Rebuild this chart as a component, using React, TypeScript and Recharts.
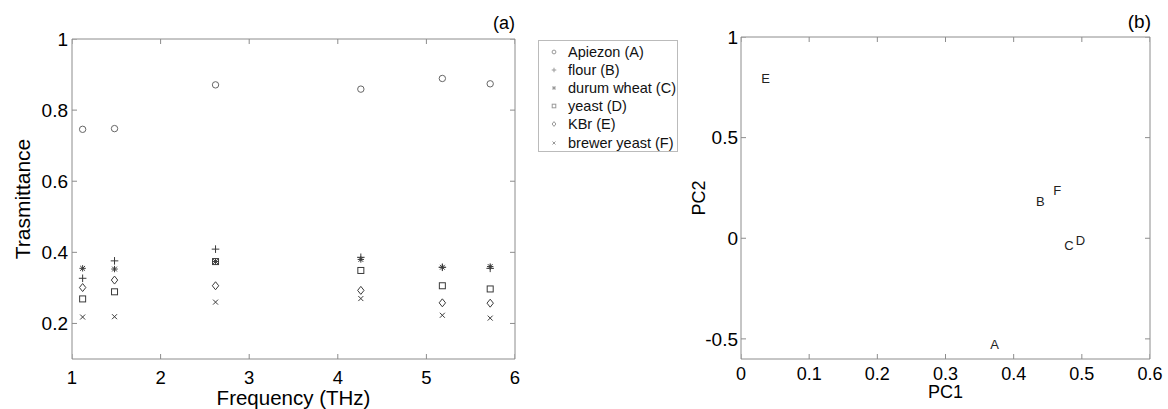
import React from 'react';
import { ScatterChart, Scatter, XAxis, YAxis, Legend, Label } from 'recharts';

// ---------- Data: panel (a) ----------
const frequencies = [1.12, 1.48, 2.62, 4.26, 5.18, 5.72];
const apiezon = [0.746, 0.748, 0.871, 0.859, 0.889, 0.874];
const flour = [0.327, 0.376, 0.409, 0.386, 0.358, 0.355];
const durumWheat = [0.355, 0.353, 0.374, 0.380, 0.358, 0.360];
const yeast = [0.269, 0.289, 0.374, 0.349, 0.306, 0.297];
const kbr = [0.301, 0.322, 0.306, 0.293, 0.258, 0.257];
const brewerYeast = [0.218, 0.219, 0.260, 0.270, 0.223, 0.215];
const seriesNames = ['Apiezon (A)', 'flour (B)', 'durum wheat (C)', 'yeast (D)', 'KBr (E)', 'brewer yeast (F)'];
const seriesValues = [apiezon, flour, durumWheat, yeast, kbr, brewerYeast];
const freqDomain = [1, 6];
const transDomain = [0.1, 1];
const freqTicks = [1, 2, 3, 4, 5, 6];
const transTicks = [0.2, 0.4, 0.6, 0.8, 1];

// ---------- Data: panel (b) ----------
const pcLabels = ['A', 'B', 'C', 'D', 'E', 'F'];
const pc1 = [0.372, 0.439, 0.481, 0.498, 0.036, 0.464];
const pc2 = [-0.526, 0.183, -0.035, -0.011, 0.794, 0.238];
const pc1Domain = [0, 0.6];
const pc2Domain = [-0.6, 1];
const pc1Ticks = [0, 0.1, 0.2, 0.3, 0.4, 0.5, 0.6];
const pc2Ticks = [-0.5, 0, 0.5, 1];

const AXIS = '#8c8c8c';
const FONT = '"Liberation Sans", Arial, Helvetica, sans-serif';
const kinds = ['circle', 'plus', 'star', 'square', 'diamond', 'x'];
const TL = 5; // inward tick length (px)

const noShape = () => <g />;
const noLabel = () => <g />;

// Inward tick-mark glyphs, drawn as scatter shapes at the frame edges
const tickUp = (p: any) => <line x1={p.cx} x2={p.cx} y1={p.cy} y2={p.cy - TL} stroke={AXIS} strokeWidth={1} />;
const tickDown = (p: any) => <line x1={p.cx} x2={p.cx} y1={p.cy} y2={p.cy + TL} stroke={AXIS} strokeWidth={1} />;
const tickRight = (p: any) => <line x1={p.cx} x2={p.cx + TL} y1={p.cy} y2={p.cy} stroke={AXIS} strokeWidth={1} />;
const tickLeft = (p: any) => <line x1={p.cx} x2={p.cx - TL} y1={p.cy} y2={p.cy} stroke={AXIS} strokeWidth={1} />;

function frameTicks(xKey: string, yKey: string, xTicks: number[], yTicks: number[], xDom: number[], yDom: number[]) {
  return {
    bottom: xTicks.map((v) => ({ [xKey]: v, [yKey]: yDom[0] })),
    top: xTicks.map((v) => ({ [xKey]: v, [yKey]: yDom[1] })),
    left: yTicks.map((v) => ({ [xKey]: xDom[0], [yKey]: v })),
    right: yTicks.map((v) => ({ [xKey]: xDom[1], [yKey]: v })),
  };
}

function MarkerGlyph({ kind, cx, cy, s = 1, color = '#444' }: any) {
  const sw = 1;
  switch (kind) {
    case 'circle':
      return <circle cx={cx} cy={cy} r={3.2 * s} fill="none" stroke={color} strokeWidth={sw} />;
    case 'plus':
      return (
        <g stroke={color} strokeWidth={sw}>
          <line x1={cx - 3.8 * s} y1={cy} x2={cx + 3.8 * s} y2={cy} />
          <line x1={cx} y1={cy - 3.8 * s} x2={cx} y2={cy + 3.8 * s} />
        </g>
      );
    case 'star':
      return (
        <g stroke={color} strokeWidth={sw}>
          <line x1={cx - 3.2 * s} y1={cy} x2={cx + 3.2 * s} y2={cy} />
          <line x1={cx} y1={cy - 3.2 * s} x2={cx} y2={cy + 3.2 * s} />
          <line x1={cx - 2.4 * s} y1={cy - 2.4 * s} x2={cx + 2.4 * s} y2={cy + 2.4 * s} />
          <line x1={cx - 2.4 * s} y1={cy + 2.4 * s} x2={cx + 2.4 * s} y2={cy - 2.4 * s} />
        </g>
      );
    case 'square':
      return <rect x={cx - 3 * s} y={cy - 3 * s} width={6 * s} height={6 * s} fill="none" stroke={color} strokeWidth={sw} />;
    case 'diamond':
      return (
        <polygon
          points={`${cx},${cy - 4 * s} ${cx + 3.2 * s},${cy} ${cx},${cy + 4 * s} ${cx - 3.2 * s},${cy}`}
          fill="none"
          stroke={color}
          strokeWidth={sw}
        />
      );
    default:
      return (
        <g stroke={color} strokeWidth={sw}>
          <line x1={cx - 2.5 * s} y1={cy - 2.5 * s} x2={cx + 2.5 * s} y2={cy + 2.5 * s} />
          <line x1={cx - 2.5 * s} y1={cy + 2.5 * s} x2={cx + 2.5 * s} y2={cy - 2.5 * s} />
        </g>
      );
  }
}

const renderLegend = (props: any) => {
  const payload = [...(props.payload || [])]
    .filter((e: any) => seriesNames.indexOf(e.value) >= 0)
    .sort((a: any, b: any) => seriesNames.indexOf(a.value) - seriesNames.indexOf(b.value));
  return (
    <div
      style={{
        border: '1px solid #bbb',
        background: '#fff',
        width: 140,
        height: 112,
        paddingTop: 2,
        boxSizing: 'border-box',
        fontFamily: FONT,
        fontSize: 14.5,
        color: '#111',
      }}
    >
      {payload.map((entry: any) => {
        const idx = seriesNames.indexOf(entry.value);
        return (
          <div key={entry.value} style={{ display: 'flex', alignItems: 'center', height: 18.1, whiteSpace: 'nowrap' }}>
            <svg width={29} height={18} style={{ flex: 'none' }}>
              <MarkerGlyph kind={kinds[idx]} cx={15} cy={9} s={0.6} color="#999" />
            </svg>
            <span>{entry.value}</span>
          </div>
        );
      })}
    </div>
  );
};

const leftData = seriesValues.map((vals) => frequencies.map((f, i) => ({ f, t: vals[i] })));
const rightData = pcLabels.map((label, i) => ({ pc1: pc1[i], pc2: pc2[i], label }));
const leftFrame = frameTicks('f', 't', freqTicks, transTicks, freqDomain, transDomain);
const rightFrame = frameTicks('pc1', 'pc2', pc1Ticks, pc2Ticks, pc1Domain, pc2Domain);

function frameScatters(frame: any, xId: string, yId: string) {
  return [
    <Scatter key="fb" data={frame.bottom} xAxisId={xId} yAxisId={yId} legendType="none" isAnimationActive={false} shape={tickUp} />,
    <Scatter key="ft" data={frame.top} xAxisId={xId} yAxisId={yId} legendType="none" isAnimationActive={false} shape={tickDown} />,
    <Scatter key="fl" data={frame.left} xAxisId={xId} yAxisId={yId} legendType="none" isAnimationActive={false} shape={tickRight} />,
    <Scatter key="fr" data={frame.right} xAxisId={xId} yAxisId={yId} legendType="none" isAnimationActive={false} shape={tickLeft} />,
  ];
}

export default function App() {
  return (
    <div style={{ position: 'absolute', left: 0, top: 0, width: 1168, height: 409, background: '#fff', fontFamily: FONT }}>
      <div style={{ position: 'absolute', left: 0, top: 0 }}>
        <ScatterChart width={690} height={409} margin={{ top: 29, right: 165, bottom: 5, left: 12 }}>
          <XAxis
            xAxisId="b" type="number" dataKey="f" domain={freqDomain} ticks={freqTicks} allowDataOverflow interval={0}
            height={45} tickLine={false} tickSize={0} tickMargin={11.5}
            axisLine={{ stroke: AXIS }} tick={{ fill: '#000', fontSize: 18.5 }}
          >
            <Label value="Frequency (THz)" position="insideBottom" offset={-0.5} style={{ fontSize: 20.5, fill: '#000' }} />
          </XAxis>
          <XAxis
            xAxisId="t" type="number" dataKey="f" domain={freqDomain} ticks={freqTicks} allowDataOverflow interval={0}
            orientation="top" height={10} tickLine={false} tickSize={0} axisLine={{ stroke: AXIS }} tick={noLabel}
          />
          <YAxis
            yAxisId="l" type="number" dataKey="t" domain={transDomain} ticks={transTicks} allowDataOverflow interval={0}
            width={60} tickLine={false} tickSize={0} tickMargin={4}
            axisLine={{ stroke: AXIS }} tick={{ fill: '#000', fontSize: 19 }}
          >
            <Label value="Trasmittance" angle={-90} position="insideLeft" offset={10.5} style={{ textAnchor: 'middle', fontSize: 21, fill: '#000' }} />
          </YAxis>
          <YAxis
            yAxisId="r" type="number" dataKey="t" domain={transDomain} ticks={transTicks} allowDataOverflow interval={0}
            orientation="right" width={10} tickLine={false} tickSize={0} axisLine={{ stroke: AXIS }} tick={noLabel}
          />
          {frameScatters(leftFrame, 'b', 'l')}
          {leftData.map((d, i) => (
            <Scatter
              key={seriesNames[i]}
              name={seriesNames[i]}
              data={d}
              xAxisId="b"
              yAxisId="l"
              fill="#444"
              isAnimationActive={false}
              shape={(p: any) => (
                <MarkerGlyph kind={kinds[i]} cx={p.cx} cy={p.cy} color={i === 0 ? '#666' : '#3a3a3a'} />
              )}
            />
          ))}
          <Scatter data={leftData[0]} xAxisId="t" yAxisId="r" legendType="none" isAnimationActive={false} shape={noShape} />
          <Legend
            verticalAlign="middle"
            layout="horizontal"
            align="center"
            wrapperStyle={{ left: 538, top: 40, width: 140, height: 112 }}
            content={renderLegend}
          />
        </ScatterChart>
      </div>

      <div style={{ position: 'absolute', left: 690, top: 0 }}>
        <ScatterChart width={478} height={409} margin={{ top: 27, right: 8, bottom: 5, left: 6 }}>
          <XAxis
            xAxisId="b" type="number" dataKey="pc1" domain={pc1Domain} ticks={pc1Ticks} allowDataOverflow interval={0}
            height={45} tickLine={false} tickSize={0} tickMargin={8}
            axisLine={{ stroke: AXIS }} tick={{ fill: '#000', fontSize: 18 }}
          >
            <Label value="PC1" position="insideBottom" offset={6} style={{ fontSize: 18, fill: '#000' }} />
          </XAxis>
          <XAxis
            xAxisId="t" type="number" dataKey="pc1" domain={pc1Domain} ticks={pc1Ticks} allowDataOverflow interval={0}
            orientation="top" height={10} tickLine={false} tickSize={0} axisLine={{ stroke: AXIS }} tick={noLabel}
          />
          <YAxis
            yAxisId="l" type="number" dataKey="pc2" domain={pc2Domain} ticks={pc2Ticks} allowDataOverflow interval={0}
            width={45} tickLine={false} tickSize={0} tickMargin={3}
            axisLine={{ stroke: AXIS }} tick={{ fill: '#000', fontSize: 19 }}
          >
            <Label value="PC2" angle={-90} position="insideLeft" offset={3} style={{ textAnchor: 'middle', fontSize: 18, fill: '#000' }} />
          </YAxis>
          <YAxis
            yAxisId="r" type="number" dataKey="pc2" domain={pc2Domain} ticks={pc2Ticks} allowDataOverflow interval={0}
            orientation="right" width={10} tickLine={false} tickSize={0} axisLine={{ stroke: AXIS }} tick={noLabel}
          />
          {frameScatters(rightFrame, 'b', 'l')}
          <Scatter
            name="PCA"
            data={rightData}
            xAxisId="b"
            yAxisId="l"
            fill="#222"
            isAnimationActive={false}
            shape={(p: any) => (
              <text x={p.cx} y={p.cy} textAnchor="middle" dominantBaseline="central" fontSize={13} fill="#222" fontFamily={FONT}>
                {p.payload.label}
              </text>
            )}
          />
          <Scatter data={rightData} xAxisId="t" yAxisId="r" legendType="none" isAnimationActive={false} shape={noShape} />
        </ScatterChart>
      </div>

      <div style={{ position: 'absolute', left: 455, top: 14, width: 60, textAlign: 'right', fontSize: 18, lineHeight: '18px', color: '#000' }}>(a)</div>
      <div style={{ position: 'absolute', left: 1091, top: 12, width: 60, textAlign: 'right', fontSize: 19, lineHeight: '19px', color: '#000' }}>(b)</div>
    </div>
  );
}
